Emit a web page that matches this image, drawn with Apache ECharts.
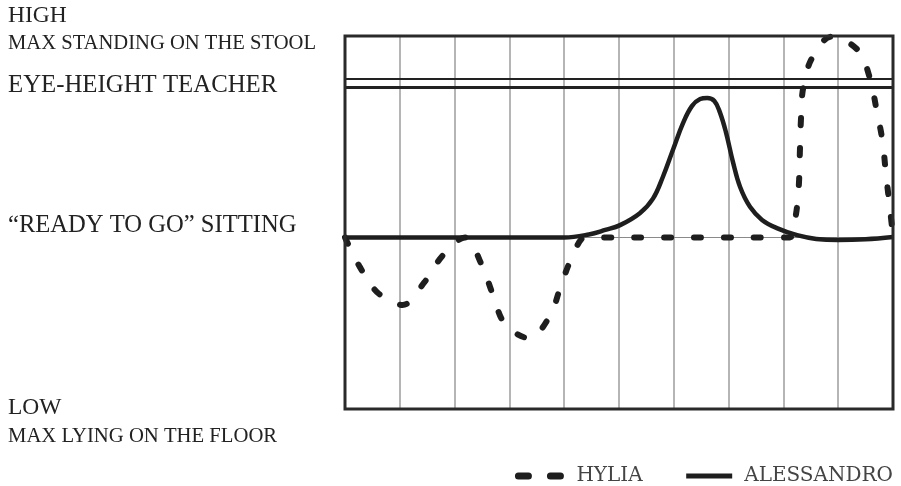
<!DOCTYPE html>
<html><head><meta charset="utf-8">
<script src="https://cdn.jsdelivr.net/npm/echarts@6/dist/echarts.min.js"></script>
<style>html,body{margin:0;padding:0;background:#fff}#c{width:901px;height:486px}</style>
</head><body><div id="c"></div>
<script>
// ---- data (x: time columns 0..10, y: height 0 = floor .. 100 = standing on stool) ----
const seriesNames = ['HYLIA', 'ALESSANDRO'];
const hyliaX = [0, 0.27, 0.61, 1.05, 1.45, 1.78, 2.19, 2.49, 2.70, 2.92, 3.36, 3.74, 3.94, 4.16, 4.38, 4.6, 7.9, 8.12, 8.22, 8.28, 8.30, 8.32, 8.36, 8.52, 8.88, 9.36, 9.58, 9.70, 9.81, 9.87, 9.94, 10];
const hyliaY = [46, 38.1, 31.0, 27.9, 34.0, 41.1, 46, 38.8, 30.6, 22.8, 19.0, 25.0, 33.1, 41.3, 46, 46, 46, 46, 51.3, 59.6, 68.6, 77.5, 86.0, 94.0, 99.8, 96.2, 88.6, 80.2, 71.7, 63.2, 54.3, 46.4];
const alessandroX = [0, 0.5, 3.6, 4.0, 4.45, 4.75, 5.02, 5.38, 5.62, 5.80, 5.99, 6.17, 6.33, 6.48, 6.61, 6.74, 6.84, 6.95, 7.08, 7.21, 7.39, 7.61, 7.88, 8.25, 8.6, 9.0, 9.5, 10];
const alessandroY = [46, 46, 46, 46, 46.8, 48.0, 49.3, 52.5, 56.4, 62.2, 69.7, 76.7, 81.2, 83.1, 83.4, 82.6, 79.6, 74.3, 66.2, 59.5, 54.2, 50.7, 48.5, 46.6, 45.6, 45.3, 45.5, 46.1];
// reference levels
const levelHigh = 100, levelEyeUpper = 88.5, levelEyeLower = 86.3, levelReady = 46, levelLow = 0;
const labelHigh = 'HIGH', labelHighSub = 'MAX STANDING ON THE STOOL';
const labelEye = 'EYE-HEIGHT TEACHER';
const labelReady = '\u201CREADY TO GO\u201D SITTING';
const labelLow = 'LOW', labelLowSub = 'MAX LYING ON THE FLOOR';

const zip = (xs, ys) => xs.map((x, i) => [x, ys[i]]);
const ink = '#1e1e1e';

const chart = echarts.init(document.getElementById('c'), null, {renderer: 'canvas'});
chart.setOption({
  animation: false,
  backgroundColor: '#fff',
  grid: {left: 345, right: 8, top: 36, bottom: 77, show: true, borderColor: '#2a2a2a', borderWidth: 3, backgroundColor: 'transparent', z: 3},
  xAxis: {type: 'value', min: 0, max: 10, interval: 1,
    axisLine: {show: false}, axisTick: {show: false}, axisLabel: {show: false},
    splitLine: {show: true, lineStyle: {color: '#9c9c9c', width: 1.5}}},
  yAxis: {type: 'value', min: levelLow, max: levelHigh,
    axisLine: {show: false}, axisTick: {show: false}, axisLabel: {show: false}, splitLine: {show: false}},
  legend: {
    right: 3, top: 461, itemWidth: 46, itemHeight: 14, itemGap: 41,
    textStyle: {fontFamily: 'DejaVu Serif', fontSize: 20, color: '#444', padding: [0, 0, 0, 7]},
    data: [
      {name: seriesNames[0], itemStyle: {opacity: 0}, lineStyle: {type: [10, 22], width: 7, cap: 'round', color: ink}},
      {name: seriesNames[1], itemStyle: {opacity: 0}, lineStyle: {type: 'solid', width: 5, color: ink}}
    ]
  },
  series: [
    {type: 'line', name: 'levels', data: [], z: 1, silent: true,
      markLine: {z: 1, silent: true, symbol: 'none', label: {show: false}, animation: false,
        data: [
          {yAxis: levelReady, lineStyle: {color: '#8a8a8a', width: 1.2, type: 'solid'}},
          {yAxis: levelEyeUpper, lineStyle: {color: '#222', width: 2.2, type: 'solid'}},
          {yAxis: levelEyeLower, lineStyle: {color: '#222', width: 3, type: 'solid'}}
        ]}},
    {type: 'line', name: seriesNames[0], data: zip(hyliaX, hyliaY), smooth: 0.35, symbol: 'none', z: 2,
      lineStyle: {color: ink, width: 6, type: [7, 23], cap: 'round'}, itemStyle: {color: ink}},
    {type: 'line', name: seriesNames[1], data: zip(alessandroX, alessandroY), smooth: 0.4, symbol: 'none', z: 2,
      lineStyle: {color: ink, width: 4.5, type: 'solid'}, itemStyle: {color: ink}}
  ]
});

const yp = v => chart.convertToPixel({yAxisIndex: 0}, v);
const txt = (text, y, size) => ({type: 'text', x: 8, y: y,
  style: {text: text, x: 0, y: 0, fill: '#222', font: size + 'px "Liberation Serif", serif', textVerticalAlign: 'middle', verticalAlign: 'middle', textAlign: 'left', align: 'left'}});
chart.setOption({graphic: [
  txt(labelHigh, yp(levelHigh) - 20.5, 23.5),
  txt(labelHighSub, yp(levelHigh) + 8, 20.6),
  txt(labelEye, (yp(levelEyeUpper) + yp(levelEyeLower)) / 2 + 2, 24.8),
  txt(labelReady, yp(levelReady) - 12, 24.6),
  txt(labelLow, yp(levelLow) - 1.5, 23.5),
  txt(labelLowSub, yp(levelLow) + 27.5, 20.7)
]});
</script></body></html>
